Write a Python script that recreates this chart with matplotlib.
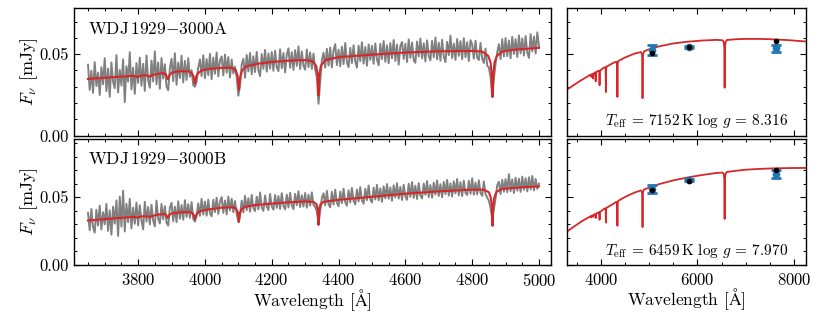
import numpy as np
import matplotlib
matplotlib.use("Agg")
import matplotlib.pyplot as plt
from matplotlib.ticker import MultipleLocator

plt.rcParams.update({
    "font.family": "serif",
    "font.serif": ["cmr10", "DejaVu Serif"],
    "mathtext.fontset": "cm",
    "axes.unicode_minus": False,
    "axes.formatter.use_mathtext": True,
    "font.size": 12,
    "axes.linewidth": 1.0,
    "xtick.direction": "in",
    "ytick.direction": "in",
    "xtick.top": True,
    "ytick.right": True,
    "xtick.major.size": 4.0,
    "ytick.major.size": 4.0,
    "xtick.minor.size": 2.2,
    "ytick.minor.size": 2.2,
    "xtick.major.width": 0.8,
    "ytick.major.width": 0.8,
    "xtick.minor.width": 0.7,
    "ytick.minor.width": 0.7,
    "xtick.major.pad": 5,
    "ytick.major.pad": 4,
})

# ---------------- data (fluxes in microJy) ----------------
spec_start, spec_stop, spec_step = 3650, 5000, 5

flux_A = [
    43.5, 28.0, 39.8, 26.2, 45.1, 30.4, 38.6, 24.9, 42.0, 31.5,
    47.6, 27.3, 41.2, 23.8, 44.9, 33.0, 29.1, 49.4, 26.5, 40.3,
    30.7, 46.8, 20.5, 42.6, 33.1, 51.2, 28.4, 41.7, 25.6, 44.5,
    32.3, 47.9, 30.6, 44.1, 27.4, 49.2, 34.0, 29.3, 46.1, 33.2,
    51.8, 31.5, 44.9, 28.7, 47.6, 35.0, 43.8, 30.1, 27.8, 41.3,
    47.2, 33.4, 50.6, 31.2, 44.8, 35.3, 49.1, 32.6, 45.9, 34.2,
    47.5, 36.1, 40.2, 31.0, 30.0, 33.1, 41.9, 46.8, 36.5, 49.3,
    35.2, 47.0, 37.1, 50.2, 34.6, 47.9, 38.0, 51.0, 36.4, 46.3,
    48.6, 37.0, 49.8, 38.6, 48.2, 35.7, 46.7, 38.1, 42.3, 36.0,
    24.5, 30.9, 43.6, 47.2, 35.5, 49.5, 39.4, 50.8, 37.6, 48.7,
    39.0, 51.4, 40.2, 36.5, 50.1, 41.0, 52.6, 39.3, 50.4, 41.1,
    51.3, 39.8, 52.1, 42.0, 39.6, 53.0, 41.4, 50.7, 38.8, 49.8,
    53.6, 41.6, 51.2, 40.3, 52.5, 42.8, 54.8, 40.9, 51.7, 42.8,
    40.5, 52.9, 42.1, 51.1, 41.0, 50.3, 40.5, 35.8, 19.5, 32.9,
    46.4, 50.9, 41.8, 53.3, 43.0, 54.1, 41.8, 52.4, 56.2, 43.3,
    52.8, 42.6, 54.6, 43.9, 56.9, 45.0, 42.0, 53.9, 44.5, 55.5,
    45.4, 41.8, 55.2, 45.8, 57.3, 44.2, 54.4, 42.9, 56.0, 46.5,
    55.1, 44.1, 56.6, 46.7, 43.2, 56.3, 47.0, 58.1, 45.3, 55.4,
    44.4, 56.8, 47.5, 58.7, 45.9, 55.9, 43.6, 55.0, 57.5, 47.1,
    56.4, 45.2, 59.1, 47.8, 57.2, 46.3, 44.7, 57.8, 48.6, 59.6,
    47.4, 56.7, 45.6, 58.5, 48.9, 46.2, 58.2, 48.1, 60.3, 46.8,
    57.1, 46.0, 58.9, 48.5, 45.1, 57.6, 49.4, 61.4, 47.6, 56.5,
    46.5, 59.3, 49.0, 58.0, 46.9, 59.8, 48.2, 57.4, 45.8, 58.6,
    56.0, 47.2, 58.3, 47.9, 46.4, 56.9, 47.1, 44.6, 53.4, 43.0,
    41.8, 36.0, 23.8, 34.9, 44.1, 51.2, 56.1, 47.0, 59.2, 48.6,
    59.9, 48.8, 58.4, 47.5, 60.7, 50.1, 59.3, 48.3, 61.5, 50.5,
    59.7, 49.2, 61.1, 50.9, 47.7, 62.3, 51.8, 60.8, 50.4, 63.4,
    55.0,
]

flux_B = [
    38.5, 25.6, 41.3, 28.0, 23.9, 40.7, 29.1, 43.8, 26.2, 38.9,
    30.0, 45.1, 25.2, 40.3, 22.4, 43.0, 30.5, 47.6, 21.5, 50.4,
    28.3, 54.8, 24.7, 45.2, 31.6, 48.8, 27.0, 42.3, 30.4, 46.1,
    29.2, 44.0, 33.1, 26.3, 46.6, 32.0, 42.8, 29.9, 44.5, 32.6,
    28.4, 47.5, 34.4, 30.6, 45.0, 33.7, 43.4, 31.2, 29.0, 42.2,
    45.8, 32.3, 43.0, 31.6, 47.0, 34.1, 44.2, 33.4, 47.8, 35.5,
    44.9, 34.8, 46.3, 33.9, 32.0, 36.0, 45.5, 36.3, 48.8, 37.2,
    46.7, 36.4, 48.2, 38.3, 35.9, 48.1, 39.0, 49.6, 37.7, 46.8,
    50.1, 38.5, 47.6, 37.3, 50.4, 40.2, 48.9, 38.9, 47.2, 37.8,
    31.5, 36.6, 47.5, 38.7, 51.0, 40.4, 49.3, 39.3, 51.7, 41.9,
    39.8, 50.4, 41.1, 53.5, 42.3, 39.9, 51.3, 43.0, 40.6, 52.4,
    43.2, 40.8, 51.6, 42.1, 50.8, 41.3, 53.0, 43.5, 41.0, 51.9,
    42.4, 53.3, 43.9, 41.2, 52.5, 44.1, 54.4, 42.7, 51.4, 43.1,
    53.1, 42.3, 51.8, 43.8, 53.6, 44.2, 43.0, 39.5, 31.0, 39.0,
    49.5, 52.9, 44.0, 54.7, 45.1, 42.5, 54.0, 44.6, 55.5, 45.9,
    43.3, 54.2, 45.5, 56.3, 46.3, 43.8, 55.1, 46.1, 56.8, 47.2,
    44.7, 55.7, 46.9, 57.4, 47.6, 45.2, 56.2, 47.8, 58.6, 48.4,
    46.1, 57.0, 48.3, 59.1, 47.7, 56.5, 46.6, 57.9, 49.1, 59.7,
    48.8, 57.2, 47.4, 58.8, 49.9, 60.3, 49.0, 57.6, 47.9, 59.2,
    50.6, 48.1, 60.0, 50.3, 61.2, 49.5, 58.5, 48.7, 60.4, 51.2,
    49.1, 60.1, 51.7, 61.9, 50.1, 59.0, 49.6, 60.7, 52.0, 62.4,
    50.9, 59.6, 50.0, 61.3, 52.3, 62.8, 51.1, 60.2, 50.5, 61.7,
    52.8, 63.4, 51.4, 61.0, 50.8, 62.2, 53.2, 51.6, 62.1, 52.5,
    63.9, 51.9, 60.8, 52.1, 62.5, 53.3, 51.0, 61.6, 52.2, 49.7,
    47.5, 42.1, 33.5, 41.3, 49.0, 58.8, 61.4, 52.4, 62.9, 54.0,
    63.3, 53.7, 67.0, 54.5, 63.1, 53.1, 64.4, 54.8, 63.7, 53.9,
    65.2, 55.4, 64.1, 54.3, 64.7, 55.7, 65.6, 55.0, 63.5, 56.1,
    60.0,
]

# model fits, optical range (wavelength [A], flux [microJy])
modA_wave = [3650, 3700, 3750, 3785, 3793, 3798, 3803, 3815, 3828, 3835, 3842,
             3860, 3876, 3883, 3889, 3895, 3902, 3930, 3952, 3962, 3966, 3970,
             3974, 3978, 3990, 4010, 4050, 4080, 4092, 4098, 4102, 4106, 4112,
             4125, 4160, 4200, 4250, 4300, 4322, 4333, 4337, 4340, 4343, 4347,
             4360, 4400, 4500, 4600, 4700, 4800, 4830, 4848, 4855, 4858, 4861,
             4864, 4867, 4874, 4892, 4920, 4960, 5000]
modA_flux = [34.8, 35.5, 36.2, 36.7, 36.4, 35.8, 36.5, 37.1, 36.9, 36.1, 37.2,
             37.9, 38.4, 37.5, 34.6, 37.5, 38.8, 39.6, 39.4, 38.0, 36.2, 31.9,
             36.2, 38.0, 40.0, 40.9, 41.6, 41.7, 40.2, 36.5, 28.2, 36.5, 40.3,
             42.6, 44.2, 45.2, 46.0, 46.4, 45.7, 42.8, 38.0, 24.7, 38.0, 42.8,
             46.3, 48.2, 49.7, 51.0, 51.8, 52.0, 51.6, 49.0, 45.0, 39.0, 23.7,
             39.0, 45.0, 49.0, 51.8, 52.7, 53.3, 53.9]

modB_wave = [3650, 3700, 3750, 3785, 3793, 3798, 3803, 3815, 3828, 3835, 3842,
             3860, 3878, 3884, 3889, 3894, 3900, 3930, 3955, 3964, 3967, 3970,
             3973, 3976, 3985, 4000, 4050, 4085, 4094, 4099, 4102, 4105, 4110,
             4120, 4150, 4200, 4250, 4300, 4325, 4334, 4338, 4340, 4342, 4346,
             4355, 4400, 4500, 4600, 4700, 4800, 4835, 4850, 4856, 4859, 4861,
             4863, 4866, 4872, 4887, 4950, 5000]
modB_flux = [32.8, 33.8, 34.8, 35.5, 35.3, 34.9, 35.4, 36.0, 35.9, 35.3, 36.1,
             37.2, 37.6, 37.0, 34.6, 37.0, 38.0, 38.9, 39.0, 37.8, 36.5, 33.8,
             36.5, 37.8, 39.7, 40.6, 42.3, 42.6, 41.3, 38.5, 32.0, 38.5, 41.3,
             42.9, 44.2, 45.3, 46.2, 46.9, 46.5, 44.8, 41.0, 29.6, 41.0, 44.8,
             46.6, 48.1, 50.3, 52.6, 54.3, 55.6, 55.5, 53.7, 49.5, 43.0, 28.9,
             43.0, 49.5, 53.7, 56.0, 57.4, 58.0]

# model fits, full SED range
sedA_wave = [3295, 3450, 3600, 3700, 3770, 3792, 3798, 3804, 3826, 3835, 3844,
             3878, 3889, 3900, 3950, 3962, 3970, 3978, 4040, 4090, 4097, 4102,
             4107, 4115, 4250, 4320, 4332, 4340, 4348, 4360, 4500, 4700, 4830,
             4850, 4857, 4861, 4865, 4872, 4895, 5000, 5200, 5500, 5800, 6100,
             6400, 6520, 6545, 6556, 6563, 6570, 6581, 6606, 6800, 7000, 7300,
             7600, 7900, 8250]
sedA_flux = [28.2, 31.3, 34.2, 35.9, 37.2, 37.4, 36.0, 37.5, 37.9, 35.0, 38.0,
             38.8, 33.3, 38.9, 39.9, 39.7, 30.9, 39.8, 41.4, 42.0, 41.0, 26.7,
             41.0, 42.3, 44.6, 45.4, 44.5, 23.7, 44.6, 45.8, 48.0, 50.4, 51.3,
             49.8, 46.0, 23.0, 46.0, 50.0, 51.8, 53.0, 54.8, 56.6, 57.7, 58.4,
             58.8, 58.6, 57.4, 54.0, 29.4, 54.0, 57.4, 58.7, 59.2, 59.4, 59.4,
             59.1, 58.6, 57.8]

sedB_wave = sedA_wave
sedB_flux = [24.7, 28.6, 32.2, 34.3, 35.7, 36.1, 35.0, 36.2, 36.6, 35.5, 36.8,
             37.6, 34.6, 37.9, 38.9, 38.9, 33.3, 39.0, 40.8, 41.8, 41.0, 31.3,
             41.0, 42.2, 45.0, 46.6, 45.9, 28.9, 46.0, 47.4, 50.2, 53.5, 55.0,
             53.8, 50.5, 27.9, 50.5, 54.0, 55.8, 57.0, 59.6, 62.4, 64.6, 66.4,
             67.9, 68.2, 67.0, 63.5, 34.0, 63.5, 67.0, 68.6, 69.5, 70.3, 70.9,
             71.3, 71.5, 71.6]

# photometry
phot_wave = [5050, 5830, 7620]
photA_obs = [52.5, 54.5, 53.5]
photA_err = [3.0, 0.8, 2.3]
photA_syn = [51.0, 54.5, 58.0]
photB_obs = [56.0, 62.5, 67.2]
photB_err = [2.7, 0.8, 3.0]
photB_syn = [55.0, 62.2, 70.4]

names = [r"WDJ$\,$1929$-$3000A", r"WDJ$\,$1929$-$3000B"]
params = [r"$T_{\rm eff}$ = 7152$\,$K log $g$ = 8.316",
          r"$T_{\rm eff}$ = 6459$\,$K log $g$ = 7.970"]

# ---------------- plotting ----------------
u = 1e-3  # microJy -> mJy
spec_wave = np.arange(spec_start, spec_stop + 1, spec_step)

W, H = 830, 312
fig = plt.figure(figsize=(W / 100, H / 100), dpi=100)

def fx(px):
    return px / W

def fy(py):
    return 1 - py / H

lx0, lx1 = 74, 551
rx0, rx1 = 567, 806
rows = [(8, 135.5), (138.5, 265)]
ylims = [(0, 0.0784), (0, 0.0933)]

grey = "#808080"
red = "#d62728"
blue = "#1f77b4"

data = [
    (flux_A, modA_wave, modA_flux, sedA_wave, sedA_flux, photA_obs, photA_err, photA_syn),
    (flux_B, modB_wave, modB_flux, sedB_wave, sedB_flux, photB_obs, photB_err, photB_syn),
]

for i, (top, bot) in enumerate(rows):
    fl, mw, mf, sw, sf, po, pe, ps = data[i]
    axl = fig.add_axes([fx(lx0), fy(bot), fx(lx1 - lx0), (bot - top) / H])
    axr = fig.add_axes([fx(rx0), fy(bot), fx(rx1 - rx0), (bot - top) / H])

    axl.plot(spec_wave, np.array(fl) * u, color=grey, lw=1.4, zorder=2)
    axl.plot(mw, np.array(mf) * u, color=red, lw=1.5, zorder=3)
    axl.set_xlim(3608, 5036)
    axl.set_ylim(*ylims[i])
    axl.xaxis.set_major_locator(MultipleLocator(200))
    axl.xaxis.set_minor_locator(MultipleLocator(50))
    axl.yaxis.set_major_locator(MultipleLocator(0.05))
    axl.yaxis.set_minor_locator(MultipleLocator(0.01))
    axl.yaxis.set_major_formatter(plt.FormatStrFormatter("%.2f"))
    axl.set_ylabel(r"$F_\nu$ [mJy]", fontsize=13)
    axl.yaxis.set_label_coords(-0.072, 0.5)
    axl.text(0.03, 0.9, names[i], transform=axl.transAxes, ha="left", va="top",
             fontsize=12.5)

    axr.plot(sw, np.array(sf) * u, color=red, lw=1.3, zorder=2)
    axr.errorbar(phot_wave, np.array(po) * u, yerr=np.array(pe) * u, fmt="o",
                 color=blue, ms=4.5, capsize=3.5, capthick=2, elinewidth=2,
                 zorder=3)
    axr.plot(phot_wave, np.array(ps) * u, "o", color="black", ms=3, zorder=4)
    axr.set_xlim(3295, 8250)
    axr.set_ylim(*ylims[i])
    axr.xaxis.set_major_locator(MultipleLocator(2000))
    axr.xaxis.set_minor_locator(MultipleLocator(500))
    axr.yaxis.set_major_locator(MultipleLocator(0.05))
    axr.yaxis.set_minor_locator(MultipleLocator(0.01))
    axr.tick_params(labelleft=False)
    axr.text(0.925, 0.08, params[i], transform=axr.transAxes, ha="right",
             va="baseline", fontsize=11)

    for ax in (axl, axr):
        ax.tick_params(which="both", top=True, right=True)
        if i == 0:
            ax.tick_params(labelbottom=False)
        else:
            ax.set_xlabel(r"Wavelength [$\mathrm{\AA}$]", fontsize=12.5, labelpad=-1)

fig.savefig("out.png", dpi=100)
